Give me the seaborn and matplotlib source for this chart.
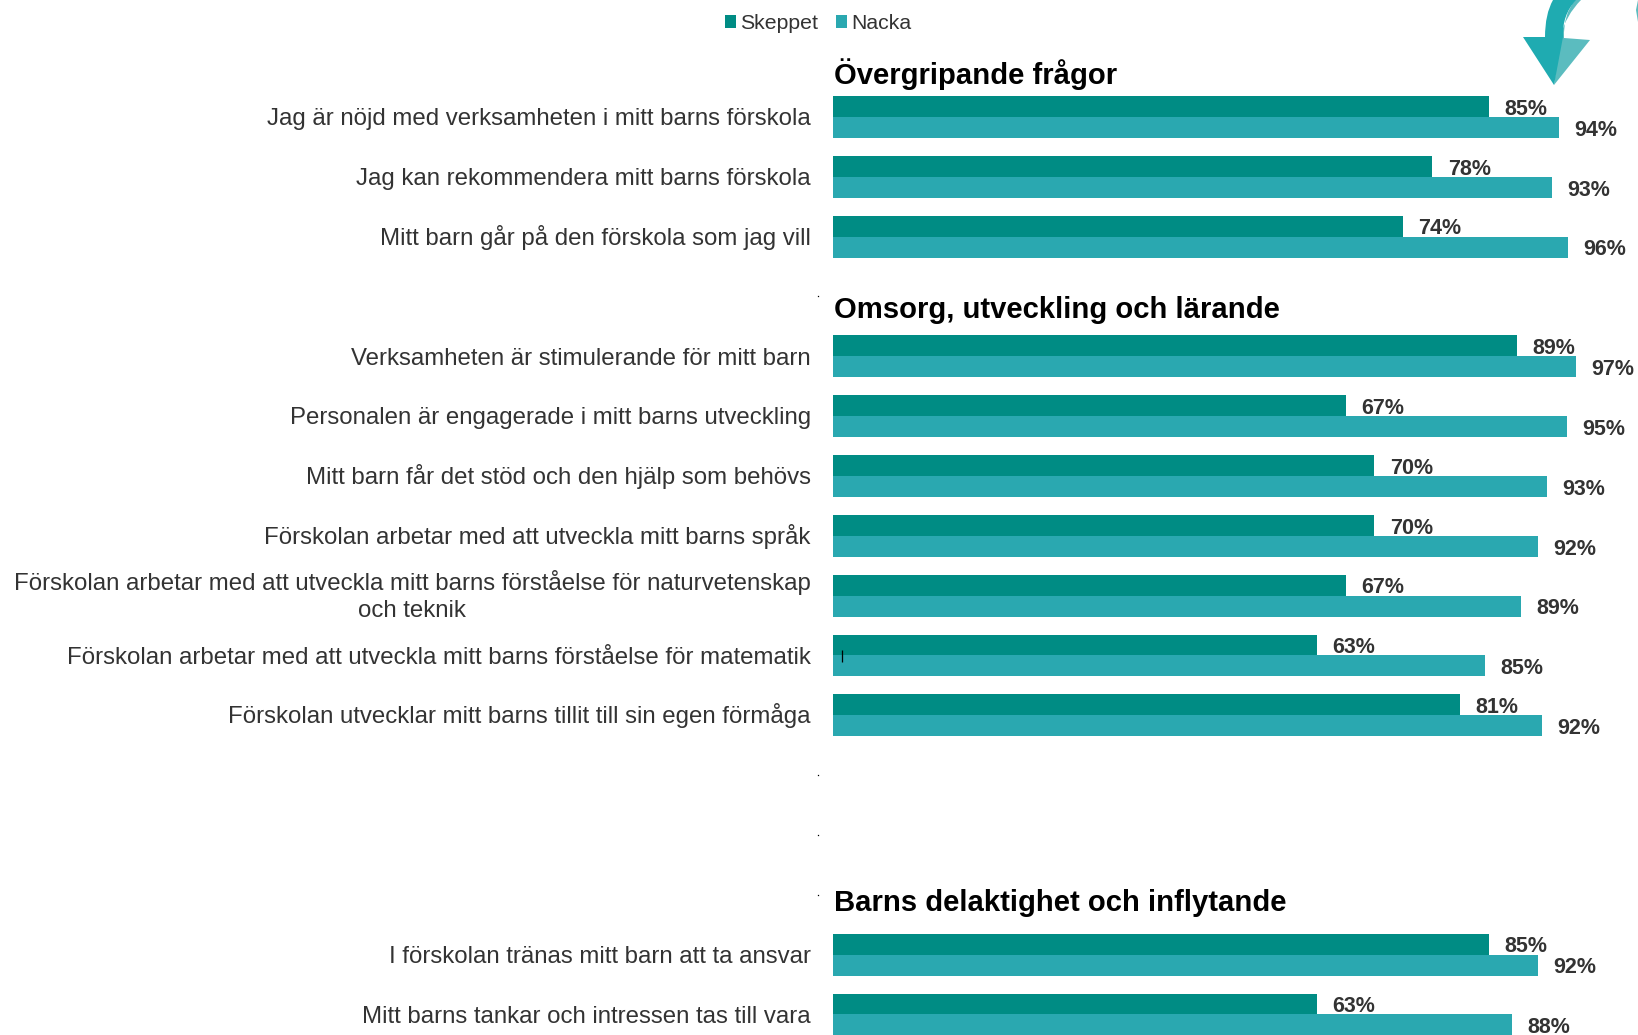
import matplotlib
matplotlib.use("Agg")
import matplotlib.pyplot as plt
from matplotlib.patches import PathPatch
from matplotlib.path import Path
from matplotlib.transforms import Affine2D, ScaledTranslation
import pandas as pd
import seaborn as sns

W, H = 1638, 1035

questions = [
    "Jag är nöjd med verksamheten i mitt barns förskola",
    "Jag kan rekommendera mitt barns förskola",
    "Mitt barn går på den förskola som jag vill",
    "Verksamheten är stimulerande för mitt barn",
    "Personalen är engagerade i mitt barns utveckling",
    "Mitt barn får det stöd och den hjälp som behövs",
    "Förskolan arbetar med att utveckla mitt barns språk",
    "Förskolan arbetar med att utveckla mitt barns förståelse för naturvetenskap\noch teknik",
    "Förskolan arbetar med att utveckla mitt barns förståelse för matematik",
    "Förskolan utvecklar mitt barns tillit till sin egen förmåga",
    "I förskolan tränas mitt barn att ta ansvar",
    "Mitt barns tankar och intressen tas till vara",
]
rows = [0, 1, 2, 4, 5, 6, 7, 8, 9, 10, 14, 15]
skeppet = [85.0, 77.6, 73.8, 88.6, 66.4, 70.1, 70.1, 66.4, 62.7, 81.2, 85.0, 62.7]
nacka = [94.0, 93.1, 95.2, 96.2, 95.1, 92.5, 91.3, 89.1, 84.4, 91.8, 91.3, 87.9]
skeppet_labels = ["85%", "78%", "74%", "89%", "67%", "70%", "70%", "67%", "63%", "81%", "85%", "63%"]
nacka_labels = ["94%", "93%", "96%", "97%", "95%", "93%", "92%", "89%", "85%", "92%", "92%", "88%"]
headings = ["Övergripande frågor", "Omsorg, utveckling och lärande", "Barns delaktighet och inflytande"]
heading_rows = [-0.72, 3.22, 13.135]
empty_tick_rows = [3, 11, 12, 13]
series_names = ["Skeppet", "Nacka"]
colors = ["#008C84", "#2AA8B0"]

plt.rcParams["font.family"] = ["Liberation Sans", "DejaVu Sans"]
df = pd.DataFrame({
    "row": rows * 2,
    "value": skeppet + nacka,
    "series": [series_names[0]] * len(rows) + [series_names[1]] * len(rows),
})

fig = plt.figure(figsize=(W / 100, H / 100), dpi=100)
X0 = 833
ax = fig.add_axes([X0 / W, 0, 1 - X0 / W, 1])
sns.barplot(data=df, y="row", x="value", hue="series", order=list(range(16)),
            hue_order=series_names, palette=colors, orient="y", width=0.70,
            saturation=1, gap=0, ax=ax, legend=True, errorbar=None)

PX_PER_UNIT = 7.72
ax.set_xlim(0, (W - X0) / PX_PER_UNIT)
ROW0, PITCH = 117.0, 59.83
ax.set_ylim((H - ROW0) / PITCH, -ROW0 / PITCH)
for s in ax.spines.values():
    s.set_visible(False)
ax.set_xlabel("")
ax.set_ylabel("")
ax.set_xticks([])
ax.set_yticks(rows, labels=questions)
ax.tick_params(axis="y", length=0, pad=16, labelsize=17.3, labelcolor="#333333")
down = ScaledTranslation(0, -5.9 / 72, fig.dpi_scale_trans)
for t in ax.get_yticklabels():
    t.set_multialignment("center")
    if "\n" in t.get_text():
        t.set_linespacing(1.3)
        t.set_va("center")
    else:
        t.set_va("baseline")
        t.set_transform(t.get_transform() + down)

for r, v, lab in zip(rows, skeppet, skeppet_labels):
    ax.annotate(lab, (v, r - 0.175), xytext=(11.2, -2.0), textcoords="offset points", va="center",
                ha="left", fontsize=15.5, fontweight="bold", color="#333333", clip_on=False)
for r, v, lab in zip(rows, nacka, nacka_labels):
    ax.annotate(lab, (v, r + 0.175), xytext=(11.2, -2.0), textcoords="offset points", va="center",
                ha="left", fontsize=15.5, fontweight="bold", color="#333333", clip_on=False)
for r, h in zip(heading_rows, headings):
    ax.text(0.1, r, h, fontsize=21.1, fontweight="bold", color="black", va="center", ha="left")

# tiny tick dots on the empty rows and the stray cursor mark
ax.plot([-15 / PX_PER_UNIT] * len(empty_tick_rows), empty_tick_rows, ls="none", marker="s",
        ms=0.9, mew=0, color="black", clip_on=False)
ax.vlines(9 / PX_PER_UNIT, 9 - 0.09, 9 + 0.11, color="black", lw=0.9)

sns.move_legend(ax, "center left", bbox_to_anchor=(725 / W, 1 - 23.5 / H),
                bbox_transform=fig.transFigure, ncols=2, frameon=False, title=None,
                fontsize=15.3, handlelength=0.53, handleheight=0.62, handletextpad=0.17,
                columnspacing=0.85, borderpad=0, borderaxespad=0, labelcolor="#333333")

# decorative curved arrow, in pixel coordinates
px = Affine2D().scale(1 / W, -1 / H).translate(0, 1) + fig.transFigure
M, L, C = Path.MOVETO, Path.LINETO, Path.CURVE3
right = Path([(1575, 0), (1563, 15), (1564, 38), (1590, 40), (1554, 85), (1560, 37), (1566, 15), (1581, 0), (1575, 0)],
             [M, C, C, L, L, L, C, C, Path.CLOSEPOLY])
left = Path([(1553, 0), (1545, 14), (1545, 37), (1523, 37), (1554, 85), (1563, 37), (1562, 15), (1576, 0), (1553, 0)],
            [M, C, C, L, L, L, C, C, Path.CLOSEPOLY])
fig.add_artist(PathPatch(right, fc="#5BBCBF", ec="none", transform=px))
fig.add_artist(PathPatch(left, fc="#1FABB1", ec="none", transform=px))
edge = Path([(1638, 0), (1636, 10), (1638, 22), (1638, 0)], [M, L, L, Path.CLOSEPOLY])
fig.add_artist(PathPatch(edge, fc="#5BBCBF", ec="none", transform=px))

fig.savefig("out.png", dpi=100, facecolor="white")
